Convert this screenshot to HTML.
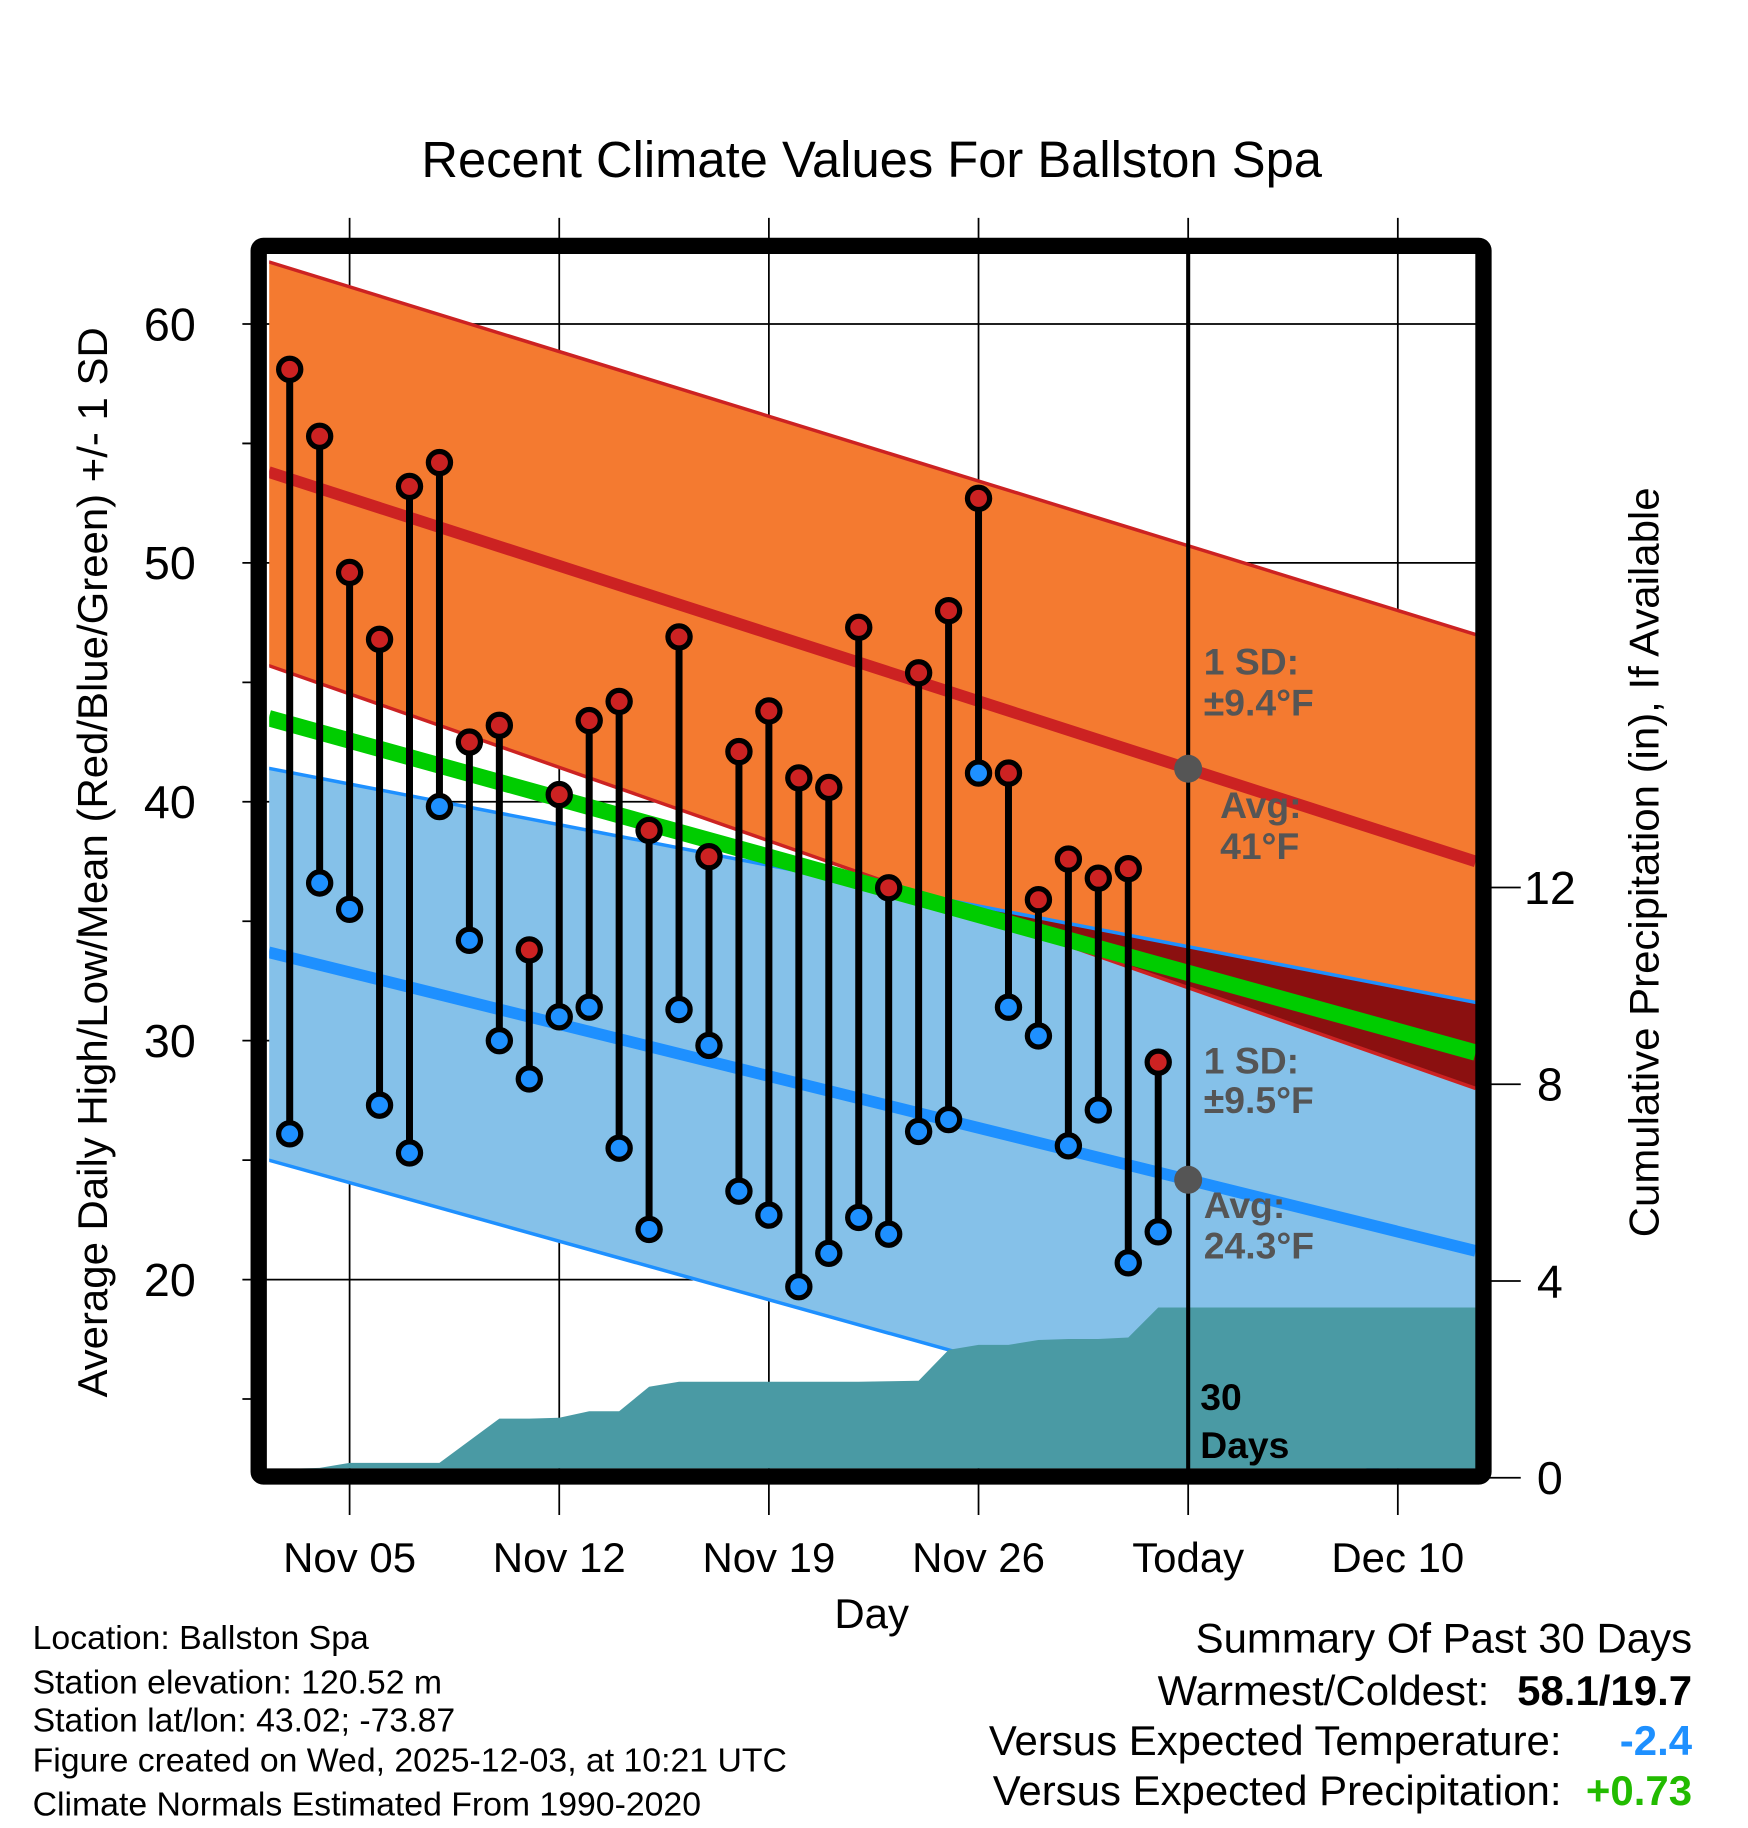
<!DOCTYPE html>
<html><head><meta charset="utf-8"><style>html,body{margin:0;padding:0;background:#fff}svg{display:block;font-family:"Liberation Sans",sans-serif}</style></head>
<body>
<svg id="chart" width="1748" height="1828" viewBox="0 0 1500 1568.6" preserveAspectRatio="none" xmlns="http://www.w3.org/2000/svg">
<defs><clipPath id="plotclip"><rect x="231" y="218" width="1036" height="1042"/></clipPath></defs>
<rect width="1500" height="1568.6" fill="#fff"/>
<text x="748" y="152" font-size="43.5" text-anchor="middle">Recent Climate Values For Ballston Spa</text>
<g id="grid"></g>
<g id="plot" clip-path="url(#plotclip)"></g>
<g id="marks"></g>
<rect x="222" y="211" width="1051" height="1056" fill="none" stroke="#000" stroke-width="14" rx="4"/>
<g id="labels"></g>
<text transform="translate(92,740) rotate(-90)" font-size="36" text-anchor="middle">Average Daily High/Low/Mean (Red/Blue/Green) +/- 1 SD</text>
<text transform="translate(1423,740) rotate(-90)" font-size="36" text-anchor="middle">Cumulative Precipitation (in), If Available</text>
<text x="748" y="1397" font-size="36" text-anchor="middle">Day</text>
<g font-size="29">
<text x="28" y="1415">Location: Ballston Spa</text>
<text x="28" y="1453">Station elevation: 120.52 m</text>
<text x="28" y="1486">Station lat/lon: 43.02; -73.87</text>
<text x="28" y="1520">Figure created on Wed, 2025-12-03, at 10:21 UTC</text>
<text x="28" y="1558">Climate Normals Estimated From 1990-2020</text>
</g>
<g font-size="36">
<text x="1452" y="1418" text-anchor="end">Summary Of Past 30 Days</text>
<text x="1278" y="1463" text-anchor="end">Warmest/Coldest:</text>
<text x="1452" y="1463" text-anchor="end" font-weight="bold">58.1/19.7</text>
<text x="1340" y="1506" text-anchor="end">Versus Expected Temperature:</text>
<text x="1452" y="1506" text-anchor="end" font-weight="bold" fill="#1e90ff">-2.4</text>
<text x="1340" y="1549" text-anchor="end">Versus Expected Precipitation:</text>
<text x="1452" y="1549" text-anchor="end" font-weight="bold" fill="#22bb00">+0.73</text>
</g>
<script>
const NS="http://www.w3.org/2000/svg";
// data (day offset 0 = Nov 03)
const highs=[58.1,55.3,49.6,46.8,53.2,54.2,42.5,43.2,33.8,40.3,43.4,44.2,38.8,46.9,37.7,42.1,43.8,41.0,40.6,47.3,36.4,45.4,48.0,52.7,41.2,35.9,37.6,36.8,37.2,29.1];
const lows=[26.1,36.6,35.5,27.3,25.3,39.8,34.2,30.0,28.4,31.0,31.4,25.5,22.1,31.3,29.8,23.7,22.7,19.7,21.1,22.6,21.9,26.2,26.7,41.2,31.4,30.2,25.6,27.1,20.7,22.0];
const precip=[0.18,0.2,0.3,0.3,0.3,0.3,0.75,1.2,1.2,1.22,1.35,1.35,1.85,1.95,1.95,1.95,1.95,1.95,1.95,1.95,1.96,1.97,2.6,2.7,2.7,2.8,2.82,2.82,2.85,3.46];
// normals at left (day -0.7) and right (day 39.6) edges
const normHigh=[53.8,37.5], normHighUp=[62.6,47.0], normHighLo=[45.7,28.0];
const normLow=[33.7,21.2], normLowUp=[41.4,31.6], normLowLo=[25.0,10.9];
const normMean=[43.5,29.5];
const yTicks=[20,30,40,50,60], y2Ticks=[0,4,8,12];
const xTickDays=[2,9,16,23,30,37], xTickLabels=["Nov 05","Nov 12","Nov 19","Nov 26","Today","Dec 10"];
const X=d=>248.6+d*25.7, Y=t=>278+(60-t)*20.5, P=p=>1268-p*42.2;
const dL=-0.7, dR=39.6;
function el(tag,attrs,parent){const e=document.createElementNS(NS,tag);for(const k in attrs)e.setAttribute(k,attrs[k]);parent.appendChild(e);return e;}
const grid=document.getElementById('grid'),plot=document.getElementById('plot'),marks=document.getElementById('marks'),labels=document.getElementById('labels');
const lineAt=(arr,d)=>arr[0]+(arr[1]-arr[0])*(d-dL)/(dR-dL);
function band(a,b,fill,name){const pts=[[dL,a[0]],[dR,a[1]],[dR,b[1]],[dL,b[0]]].map(p=>X(p[0])+','+Y(p[1])).join(' ');
 const e=el('polygon',{points:pts,fill:fill},plot);
 
 }
function line(a,color,w,name){const e=el('line',{x1:X(dL),y1:Y(a[0]),x2:X(dR),y2:Y(a[1]),stroke:color,'stroke-width':w},plot);
 
 }
band(normLowUp,normLowLo,'#85c1e9','low-sd-band');
band(normHighUp,normHighLo,'#f47a30','high-sd-band');
{const f=d=>lineAt(normLowUp,d)-lineAt(normHighLo,d);const dc=dL+(dR-dL)*f(dL)/(f(dL)-f(dR));
 const pts=[[dc,lineAt(normLowUp,dc)],[dR,normLowUp[1]],[dR,normHighLo[1]]].map(p=>X(p[0])+','+Y(p[1])).join(' ');
 const e=el('polygon',{points:pts,fill:'#8b1010'},plot);
 
 }
line(normHighUp,'#cc2222',3,'high-sd-upper');line(normHighLo,'#cc2222',3,'high-sd-lower');
line(normLowUp,'#1e90ff',3,'low-sd-upper');line(normLowLo,'#1e90ff',3,'low-sd-lower');
{let pts=[X(dL)+','+P(0)];precip.forEach((p,i)=>pts.push(X(i)+','+P(p)));pts.push(X(dR)+','+P(precip[precip.length-1]));pts.push(X(dR)+','+P(0));
 const e=el('polygon',{points:pts.join(' '),fill:'#4a9aa4'},plot);
 
 }
line(normMean,'#00cc00',14,'normal-mean-line');
line(normHigh,'#cc2222',10,'normal-high-line');
line(normLow,'#1e90ff',10,'normal-low-line');
yTicks.forEach(t=>{const e=el('line',{x1:208,y1:Y(t),x2:1267,y2:Y(t),stroke:'#000','stroke-width':1.5},grid);
 
 
 const tx=el('text',{x:168,y:Y(t)+14,'font-size':40,'text-anchor':'end'},labels);tx.textContent=t;
 
 
 const m=el('line',{x1:208,y1:Y(t-5),x2:222,y2:Y(t-5),stroke:'#000','stroke-width':1.5},grid);
 
 });
{const m=el('line',{x1:208,y1:Y(55),x2:222,y2:Y(55),stroke:'#000','stroke-width':1.5},grid);
 
 }
y2Ticks.forEach(p=>{const e=el('line',{x1:1273,y1:P(p),x2:1305,y2:P(p),stroke:'#000','stroke-width':1.5},grid);
 
 
 const tx=el('text',{x:1330,y:P(p)+14,'font-size':40,'text-anchor':'middle'},labels);tx.textContent=p;
 
 });
xTickDays.forEach((d,i)=>{const e=el('line',{x1:X(d),y1:187,x2:X(d),y2:1300,stroke:'#000','stroke-width':1.5},grid);
 
 
 const tx=el('text',{x:X(d),y:1349,'font-size':36,'text-anchor':'middle'},labels);tx.textContent=xTickLabels[i];
 
 });
{const e=el('line',{x1:X(30),y1:218,x2:X(30),y2:1262,stroke:'#000','stroke-width':3.5},marks);
 
 }
highs.forEach((h,i)=>{const l=lows[i];
 const s=el('line',{x1:X(i),y1:Y(h),x2:X(i),y2:Y(l),stroke:'#000','stroke-width':6},marks);
 
 });
highs.forEach((h,i)=>{const l=lows[i];
 const a=el('circle',{cx:X(i),cy:Y(h),r:9.5,fill:'#cc2222',stroke:'#000','stroke-width':4.5},marks);
 
 
 const b=el('circle',{cx:X(i),cy:Y(l),r:9.5,fill:'#1e90ff',stroke:'#000','stroke-width':4.5},marks);
 
 });
[normHigh,normLow].forEach((n,k)=>{const c=el('circle',{cx:X(30),cy:Y(lineAt(n,30)),r:12,fill:'#555'},marks);
 
 });
const ann=[[1033,579,'1 SD:','#555'],[1033,614,'±9.4°F','#555'],[1047,702,'Avg:','#555'],[1047,737,'41°F','#555'],[1033,921,'1 SD:','#555'],[1033,955,'±9.5°F','#555'],[1033,1045,'Avg:','#555'],[1033,1080,'24.3°F','#555'],[1030,1210,'30','#000'],[1030,1251,'Days','#000']];
ann.forEach(a=>{const t=el('text',{x:a[0],y:a[1],'font-size':32,'font-weight':'bold',fill:a[3]},marks);t.textContent=a[2];
 
 });
</script>
</svg>
</body></html>
